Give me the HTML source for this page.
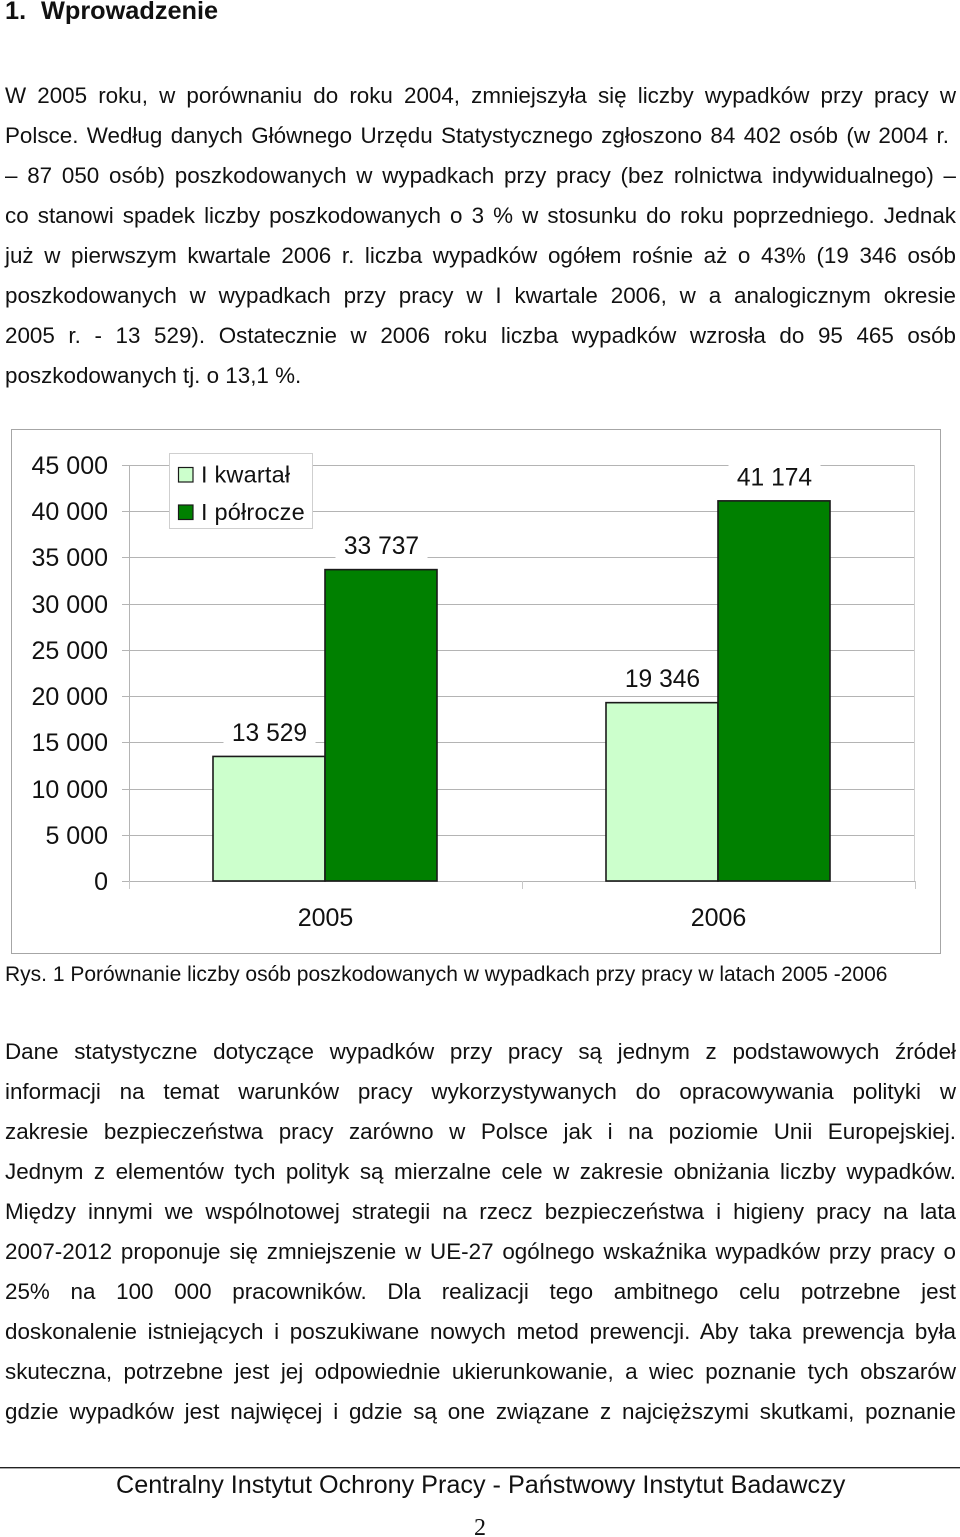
<!DOCTYPE html>
<html lang="pl">
<head>
<meta charset="utf-8">
<title>Wprowadzenie</title>
<style>
html,body{margin:0;padding:0;background:#fff;}
#page{position:relative;width:960px;height:1537px;overflow:hidden;background:#fff;color:#111;font-family:"Liberation Sans",sans-serif;}
.l{position:absolute;left:5px;width:951px;height:24px;line-height:24px;margin-top:1px;font-size:22.4px;white-space:nowrap;text-align:justify;text-align-last:justify;}
.n{text-align:left;text-align-last:left;}
#chart{position:absolute;left:0;top:0;}
</style>
</head>
<body>
<div id="page">
<div style="position:absolute;left:5px;top:-2px;font-size:25.3px;line-height:26px;font-weight:bold;white-space:pre;">1.<span style="position:absolute;left:36px;">Wprowadzenie</span></div>

<div>
<div class="l" style="top:83px">W 2005 roku, w porównaniu do roku 2004, zmniejszyła się liczby wypadków przy pracy w</div>
<div class="l" style="top:123px;width:944px">Polsce. Według danych Głównego Urzędu Statystycznego zgłoszono 84 402 osób (w 2004 r.</div>
<div class="l" style="top:163px">– 87 050 osób) poszkodowanych w wypadkach przy pracy (bez rolnictwa indywidualnego) –</div>
<div class="l" style="top:203px">co stanowi spadek liczby poszkodowanych o 3 % w stosunku do roku poprzedniego. Jednak</div>
<div class="l" style="top:243px">już w pierwszym kwartale 2006 r. liczba wypadków ogółem rośnie aż o 43% (19 346 osób</div>
<div class="l" style="top:283px">poszkodowanych w wypadkach przy pracy w I kwartale 2006, w a analogicznym okresie</div>
<div class="l" style="top:323px">2005 r. - 13 529). Ostatecznie w 2006 roku liczba wypadków wzrosła do 95 465 osób</div>
<div class="l n" style="top:363px">poszkodowanych tj. o 13,1 %.</div>
</div>

<svg id="chart" width="960" height="1000" viewBox="0 0 960 1000" style="font-family:'Liberation Sans',sans-serif"></svg>

<div class="l n" style="top:962px;font-size:21px;">Rys. 1 Porównanie liczby osób poszkodowanych w wypadkach przy pracy w latach 2005 -2006</div>

<div>
<div class="l" style="top:1039px">Dane statystyczne dotyczące wypadków przy pracy są jednym z podstawowych źródeł</div>
<div class="l" style="top:1079px">informacji na temat warunków pracy wykorzystywanych do opracowywania polityki w</div>
<div class="l" style="top:1119px">zakresie bezpieczeństwa pracy zarówno w Polsce jak i na poziomie Unii Europejskiej.</div>
<div class="l" style="top:1159px">Jednym z elementów tych polityk są mierzalne cele w zakresie obniżania liczby wypadków.</div>
<div class="l" style="top:1199px">Między innymi we wspólnotowej strategii na rzecz bezpieczeństwa i higieny pracy na lata</div>
<div class="l" style="top:1239px">2007-2012 proponuje się zmniejszenie w UE-27 ogólnego wskaźnika wypadków przy pracy o</div>
<div class="l" style="top:1279px">25% na 100 000 pracowników. Dla realizacji tego ambitnego celu potrzebne jest</div>
<div class="l" style="top:1319px">doskonalenie istniejących i poszukiwane nowych metod prewencji. Aby taka prewencja była</div>
<div class="l" style="top:1359px">skuteczna, potrzebne jest jej odpowiednie ukierunkowanie, a wiec poznanie tych obszarów</div>
<div class="l" style="top:1399px">gdzie wypadków jest najwięcej i gdzie są one związane z najcięższymi skutkami, poznanie</div>
</div>

<div style="position:absolute;left:0;top:1467px;width:960px;height:1px;background:#222;border-bottom:1px solid #aaa;"></div>
<div style="position:absolute;left:116px;top:1470px;width:729px;height:30px;line-height:30px;font-size:25.2px;white-space:nowrap;">Centralny Instytut Ochrony Pracy - Państwowy Instytut Badawczy</div>
<div style="position:absolute;left:474px;top:1514px;font-family:'Liberation Serif',serif;font-size:24px;line-height:28px;">2</div>
</div>

<script>
var categories = ["2005", "2006"];
var seriesNames = ["I kwartał", "I półrocze"];
var firstQuarter = [13529, 19346];
var firstHalf = [33737, 41174];
var firstQuarterLabels = ["13 529", "19 346"];
var firstHalfLabels = ["33 737", "41 174"];
var yTicks = [0, 5000, 10000, 15000, 20000, 25000, 30000, 35000, 40000, 45000];
var yTickLabels = ["0", "5 000", "10 000", "15 000", "20 000", "25 000", "30 000", "35 000", "40 000", "45 000"];

var svg = document.getElementById('chart');
var NS = 'http://www.w3.org/2000/svg';
var plotLeft = 129, plotRight = 915, plotTop = 465, plotBottom = 881, yMax = 45000;
var barWidth = 112;
var colors = ["#ccffcc", "#008000"];

function yScale(v) { return plotBottom - (v / yMax) * (plotBottom - plotTop); }
function groupCenter(i) { return plotLeft + (i + 0.5) * (plotRight - plotLeft) / categories.length; }
function make(tag, attrs, text) {
  var el = document.createElementNS(NS, tag);
  for (var k in attrs) el.setAttribute(k, attrs[k]);
  if (text !== undefined) el.textContent = text;
  svg.appendChild(el);
  return el;
}

var frame = make('rect', {x: 11.5, y: 429.5, width: 929, height: 524, fill: '#fff', stroke: '#a6a6a6', 'stroke-width': 1});



yTicks.forEach(function (t, i) {
  var y = Math.round(yScale(t)) + 0.5;
  var line = make('line', {x1: 122, x2: plotRight, y1: y, y2: y, stroke: '#b4b4b4', 'stroke-width': 1});
  
  
  var label = make('text', {x: 108, y: y + 8.5, 'text-anchor': 'end', 'font-size': 25, fill: '#111'}, yTickLabels[i]);
  
  
});

var yAxis = make('line', {x1: plotLeft + 0.5, x2: plotLeft + 0.5, y1: plotTop, y2: plotBottom, stroke: '#b4b4b4', 'stroke-width': 1});


var rightEdge = make('line', {x1: plotRight - 0.5, x2: plotRight - 0.5, y1: plotTop, y2: plotBottom, stroke: '#d0d0d0', 'stroke-width': 1});



for (var c = 0; c <= categories.length; c++) {
  var tx = Math.round(plotLeft + c * (plotRight - plotLeft) / categories.length) + 0.5;
  var tick = make('line', {x1: tx, x2: tx, y1: plotBottom, y2: plotBottom + 8, stroke: '#c8c8c8', 'stroke-width': 1});
  
  
}

function drawLabel(text, cx, top) {
  var y = yScale(top);
  var bg = make('rect', {x: cx - 46, y: y - 40, width: 92, height: 32, fill: '#fff'});
  
  
  var t = make('text', {x: cx, y: y - 15, 'text-anchor': 'middle', 'font-size': 24.6, fill: '#111'}, text);
  
  
}

categories.forEach(function (cat, i) {
  var cx = groupCenter(i);
  var y1 = yScale(firstQuarter[i]);
  var y2 = yScale(firstHalf[i]);
  drawLabel(firstQuarterLabels[i], cx - barWidth / 2, firstQuarter[i]);
  drawLabel(firstHalfLabels[i], cx + barWidth / 2, firstHalf[i]);
  var b1 = make('rect', {x: cx - barWidth - 0.5, y: y1 + 0.5, width: barWidth, height: plotBottom - y1 - 0.5, fill: colors[0], stroke: '#1a1a1a', 'stroke-width': 1.6});
  
  
  var b2 = make('rect', {x: cx - 0.5, y: y2 + 0.5, width: barWidth, height: plotBottom - y2 - 0.5, fill: colors[1], stroke: '#1a1a1a', 'stroke-width': 1.6});
  
  
  var xl = make('text', {x: cx, y: 926, 'text-anchor': 'middle', 'font-size': 25, fill: '#111'}, cat);
  
  
});

var legendBox = make('rect', {x: 169.5, y: 453.5, width: 143, height: 75, fill: '#fff', stroke: '#cfcfcf', 'stroke-width': 1});


seriesNames.forEach(function (name, i) {
  var sy = 467.5 + i * 37.5;
  var sw = make('rect', {x: 178.5, y: sy, width: 14.5, height: 14.5, fill: colors[i], stroke: '#1a1a1a', 'stroke-width': 1.2});
  
  
  var lt = make('text', {x: 201, y: sy + 15, 'font-size': 23.5, 'letter-spacing': 0.2, fill: '#111'}, name);
  
  
});
</script>
</body>
</html>
